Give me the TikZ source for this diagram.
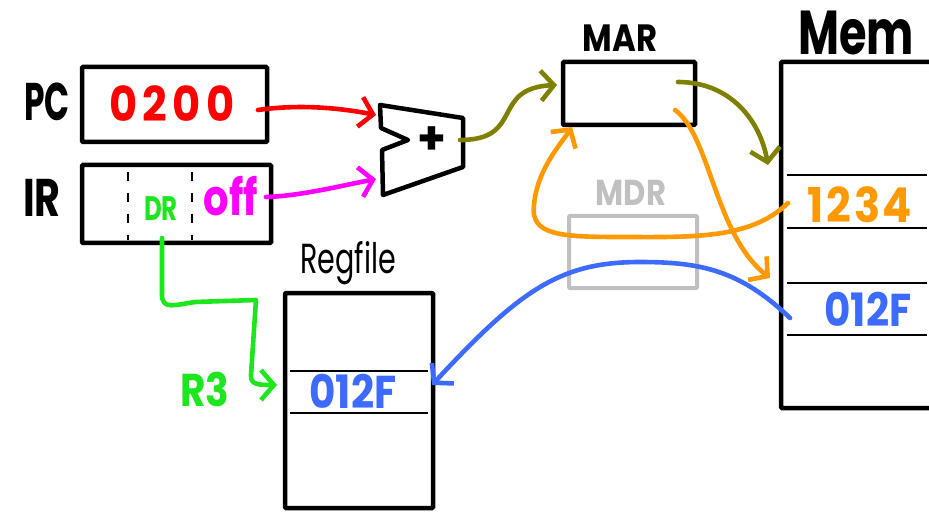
\documentclass[tikz,border=0pt]{standalone}
\usepackage{fontspec}
\setmainfont{Poppins}
\usetikzlibrary{arrows.meta}
\definecolor{cred}{HTML}{FF0000}
\definecolor{cmag}{HTML}{FF00FF}
\definecolor{colive}{HTML}{808000}
\definecolor{corange}{HTML}{FF9900}
\definecolor{cblue}{HTML}{3D6BFF}
\definecolor{cgreen}{HTML}{1EE61E}
\definecolor{cgray}{HTML}{C0C0C0}
\newcommand{\nar}[2][0.8]{\scalebox{#1}[1]{#2}}
\newcommand{\fsz}[1]{\fontsize{#1}{#1}\selectfont}
\begin{document}
\begin{tikzpicture}[x=1pt,y=-1pt,
  box/.style={draw, line width=4.5pt, rounded corners=1pt, inner sep=0pt},
  cell/.style={line width=2pt},
  arr/.style={line width=4.6pt, line cap=round, line join=round,
    -{Straight Barb[length=13pt,width=30pt,line width=4.6pt]}},
  txt/.style={inner sep=0pt, font=\bfseries},
]
\useasboundingbox (0,0) rectangle (929,513);
% PC and IR
\node[box, minimum width=185, minimum height=75] (pc) at (174.5,104.5) {};
\node[txt] (pclbl) at (47,102) {\fsz{53}\nar[0.62]{PC}};
\node[txt, text=cred] (pcval) at (172,104) {\fsz{48}\addfontfeature{LetterSpace=12}\nar[0.9]{0200}};
\node[box, minimum width=189, minimum height=78] (ir) at (176.5,204) {};
\node[txt] (irlbl) at (42,198) {\fsz{53}\nar[0.75]{IR}};
\coordinate (d1t) at (128,172); \coordinate (d1b) at (128,240);
\coordinate (d2t) at (192,172); \coordinate (d2b) at (192,240);
\draw[line width=2pt, dash pattern=on 9pt off 12pt] (d1t) -- (d1b);
\draw[line width=2pt, dash pattern=on 9pt off 12pt] (d2t) -- (d2b);
\node[txt, text=cgreen] (dr) at (161,209) {\fsz{34}\nar[0.72]{DR}};
\node[txt, text=cmag] (off) at (231,196) {\fsz{50}\nar[0.8]{off}};
% adder
\draw[line width=4.5pt, line join=round] (380,105) -- (463,118) -- (463,167) -- (383,195) -- (382,150) -- (408,140) -- (381,128) -- cycle;
\node[txt] (plus) at (432,141) {\fsz{46}+};
\coordinate (addin1) at (376,115);
\coordinate (addin2) at (376,179);
\coordinate (addout) at (460,140);
% MAR
\node[box, minimum width=132, minimum height=63] (mar) at (629,93.5) {};
\node[txt] (marlbl) at (620,38) {\fsz{38}\nar[0.85]{MAR}};
% Mem
\node[box, minimum width=200, minimum height=346] (mem) at (881,235) {};
\node[txt] (memlbl) at (856,33) {\fsz{62}\nar[0.72]{Mem}};
\foreach \yy in {175,228,283,335} \draw[cell] (787,\yy) -- (927,\yy);
\node[txt, text=corange] (m1234) at (860,205) {\fsz{48}\addfontfeature{LetterSpace=6}\nar[0.9]{1234}};
\node[txt, text=cblue] (m012f) at (868,309) {\fsz{46}\nar[0.88]{012F}};
% MDR
\node[draw=cgray, line width=4pt, rounded corners=1pt, inner sep=0pt, minimum width=128, minimum height=72] (mdr) at (633,252) {};
\node[txt, text=cgray] (mdrlbl) at (631,193) {\fsz{36}\nar[0.85]{MDR}};
% Regfile
\node[box, minimum width=148, minimum height=215] (reg) at (359,400.5) {};
\node[inner sep=0pt] (reglbl) at (348,263) {\fsz{42}\nar[0.68]{Regfile}};
\draw[cell] (290,371) -- (428,371);
\draw[cell] (290,413) -- (428,413);
\node[txt, text=cblue] (r012f) at (353,391) {\fsz{46}\nar[0.88]{012F}};
\node[txt, text=cgreen] (r3) at (205,389) {\fsz{46}\nar[0.85]{R3}};
% connectors
\coordinate (pcout) at (258,110);
\coordinate (irout) at (266,197);
\coordinate (drout) at (162,238);
\coordinate (r3in) at (277,385);
\coordinate (marin) at (557,85);
\coordinate (marbot) at (572,127);
\coordinate (marout1) at (678,82);
\coordinate (marout2) at (675,110);
\coordinate (memin1) at (768,165);
\coordinate (memin2) at (770,278);
\coordinate (memout1) at (788,203);
\coordinate (memout2) at (790,318);
\coordinate (regin) at (432,385);
\draw[arr, cred] (pcout) .. controls (300,104) and (340,108) .. (addin1);
\draw[arr, cmag] (irout) .. controls (300,196) and (340,186) .. (addin2);
\draw[arr, colive] (addout) .. controls (525,140) and (490,88) .. (marin);
\draw[arr, colive] (marout1) .. controls (730,82) and (760,120) .. (memin1);
\draw[arr, corange] (marout2) .. controls (710,135) and (715,235) .. (memin2);
\draw[arr, corange] (memout1) .. controls (750,240) and (690,237) .. (620,237)
   .. controls (560,237) and (530,235) .. (534,205) .. controls (537,170) and (560,145) .. (marbot);
\draw[arr, cblue] (memout2) .. controls (740,270) and (700,262) .. (640,262)
   .. controls (560,262) and (520,290) .. (regin);
\draw[arr, cgreen] (drout) -- (162,295) .. controls (162,310) and (175,305) .. (195,302) -- (256,300)
   -- (251,375) .. controls (250,385) and (260,385) .. (r3in);
\end{tikzpicture}
\end{document}
